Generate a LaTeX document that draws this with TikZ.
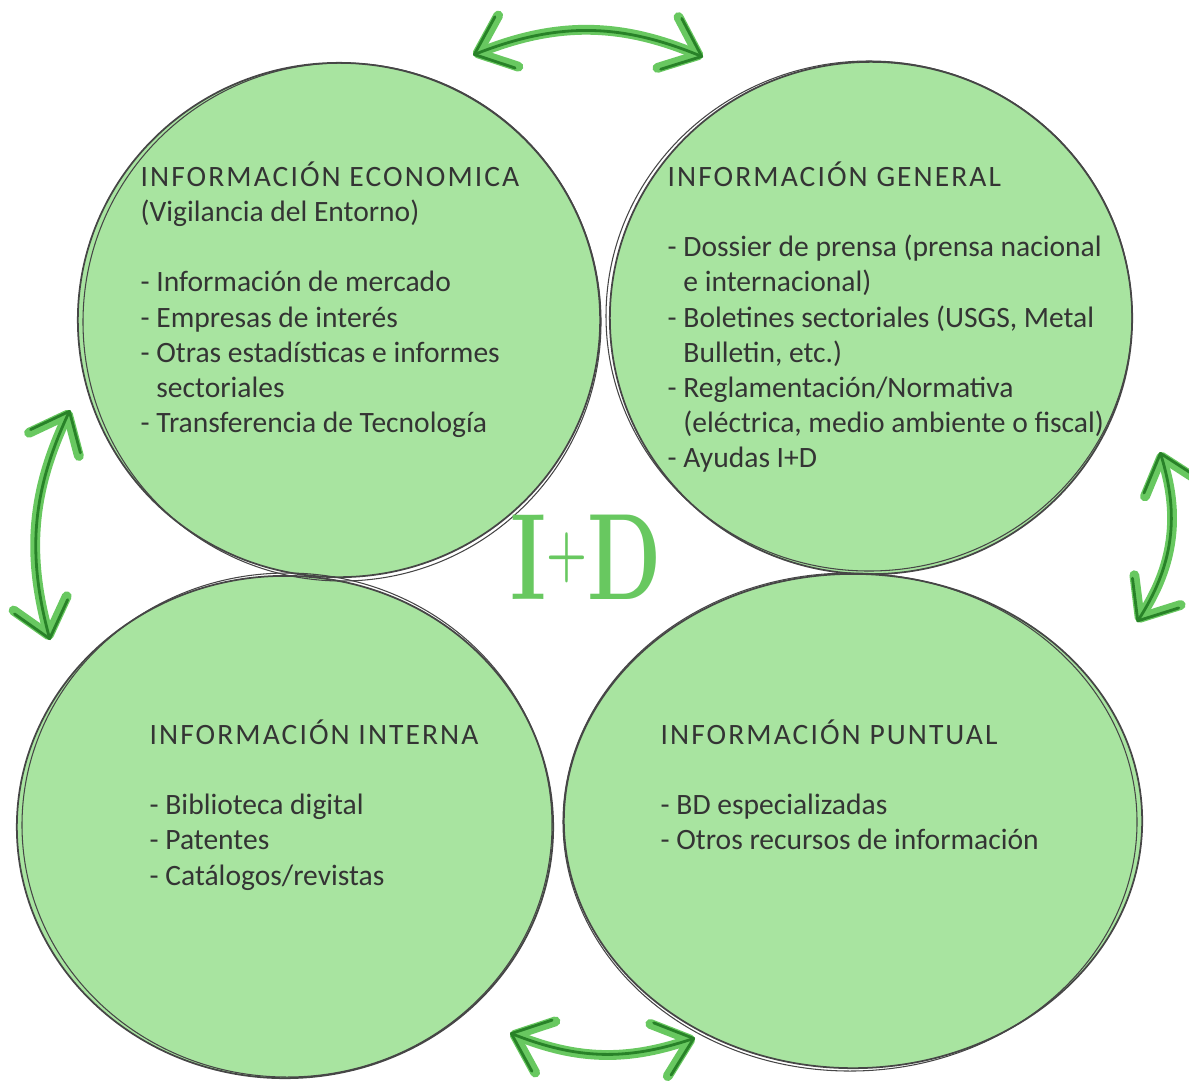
\documentclass[tikz,border=0pt]{standalone}
\usepackage{fontspec}
\usetikzlibrary{calc}
\usetikzlibrary{arrows.meta}
\usetikzlibrary{shapes.geometric}
\newfontfamily\infofont{Carlito}
\newfontfamily\headfont[LetterSpace=7]{Carlito}
\definecolor{leaf}{RGB}{168,228,160}
\definecolor{pencil}{RGB}{70,70,70}
\definecolor{inkgray}{RGB}{52,52,52}
\definecolor{arrowlight}{RGB}{104,200,96}
\definecolor{arrowdark}{RGB}{40,130,40}

\begin{document}
\begin{tikzpicture}[x=0.01cm,y=0.01cm,
  bubble/.style={ellipse, fill=leaf, draw=pencil, line width=0.5pt, inner sep=0pt},
  sketch/.style={draw=pencil, line width=0.3pt},
  infotext/.style={anchor=north west, align=left, inner sep=0pt, text=inkgray,
    font=\infofont\fontsize{8.4pt}{10pt}\selectfont},
  twoway/.style={line width=0.8pt, draw=arrowdark, line cap=round,
    arrows={Straight Barb[length=3.3mm,width=5.5mm,round]-Straight Barb[length=3.3mm,width=5.5mm,round]},
    preaction={draw=arrowlight, line width=2.8pt,
      arrows={Straight Barb[length=3.3mm,width=5.5mm,round]-Straight Barb[length=3.3mm,width=5.5mm,round]}}}]

\useasboundingbox (0,0) rectangle (1189,-1081);

\coordinate (A) at (473,-55);
\coordinate (B) at (703,-57);
\coordinate (C) at (1160,-452);
\coordinate (D) at (1137,-622);
\coordinate (E) at (510,-1033);
\coordinate (F) at (695,-1038);
\coordinate (G) at (70,-410);
\coordinate (H) at (50,-640);

\node[bubble, minimum width=5.22cm, minimum height=5.14cm] (EC) at (339,-320) {};
\node[bubble, minimum width=5.22cm, minimum height=5.12cm] (GE) at (871,-318) {};
\node[bubble, minimum width=5.36cm, minimum height=5.02cm] (IN) at (285,-827) {};
\node[bubble, minimum width=5.78cm, minimum height=4.94cm] (PU) at (853,-821) {};

\draw[sketch] ($(EC.center)+(3,-2)$) ellipse (259 and 259);
\draw[sketch] ($(GE.center)+(-2,2)$) ellipse (263 and 255);
\draw[sketch] ($(IN.center)+(2,2)$) ellipse (265 and 252);
\draw[sketch] ($(PU.center)+(-3,-1)$) ellipse (287 and 249);

\node[infotext] (ECt) at (140,-161) {{\headfont INFORMACIÓN ECONOMICA}\\(Vigilancia del Entorno)\\[10pt]
  - Información de mercado\\- Empresas de interés\\- Otras estadísticas e informes\\
  \hphantom{- }sectoriales\\- Transferencia de Tecnología};
\node[infotext] (GEt) at (667,-161) {{\headfont INFORMACIÓN GENERAL}\\[10pt]
  - Dossier de prensa (prensa nacional\\\hphantom{- }e internacional)\\
  - Boletines sectoriales (USGS, Metal\\\hphantom{- }Bulletin, etc.)\\
  - Reglamentación/Normativa\\\hphantom{- }(eléctrica, medio ambiente o fiscal)\\- Ayudas I+D};
\node[infotext] (INt) at (149,-719) {{\headfont INFORMACIÓN INTERNA}\\[10pt]
  - Biblioteca digital\\- Patentes\\- Catálogos/revistas};
\node[infotext] (PUt) at (660,-719) {{\headfont INFORMACIÓN PUNTUAL}\\[10pt]
  - BD especializadas\\- Otros recursos de información};

\node[text=arrowlight, font=\bfseries\fontsize{35pt}{35pt}\selectfont,
  xscale=0.7, transform shape, inner sep=0pt] (ID) at (586,-557)
  {I\raisebox{7pt}{\fontsize{19pt}{19pt}\selectfont\bfseries +}D};

\draw[twoway] (A) to[bend left=22] (B);
\draw[twoway] (C) to[bend left=25] (D);
\draw[twoway] (E) to[bend right=20] (F);
\draw[twoway] (G) to[bend right=20] (H);

\end{tikzpicture}
\end{document}
